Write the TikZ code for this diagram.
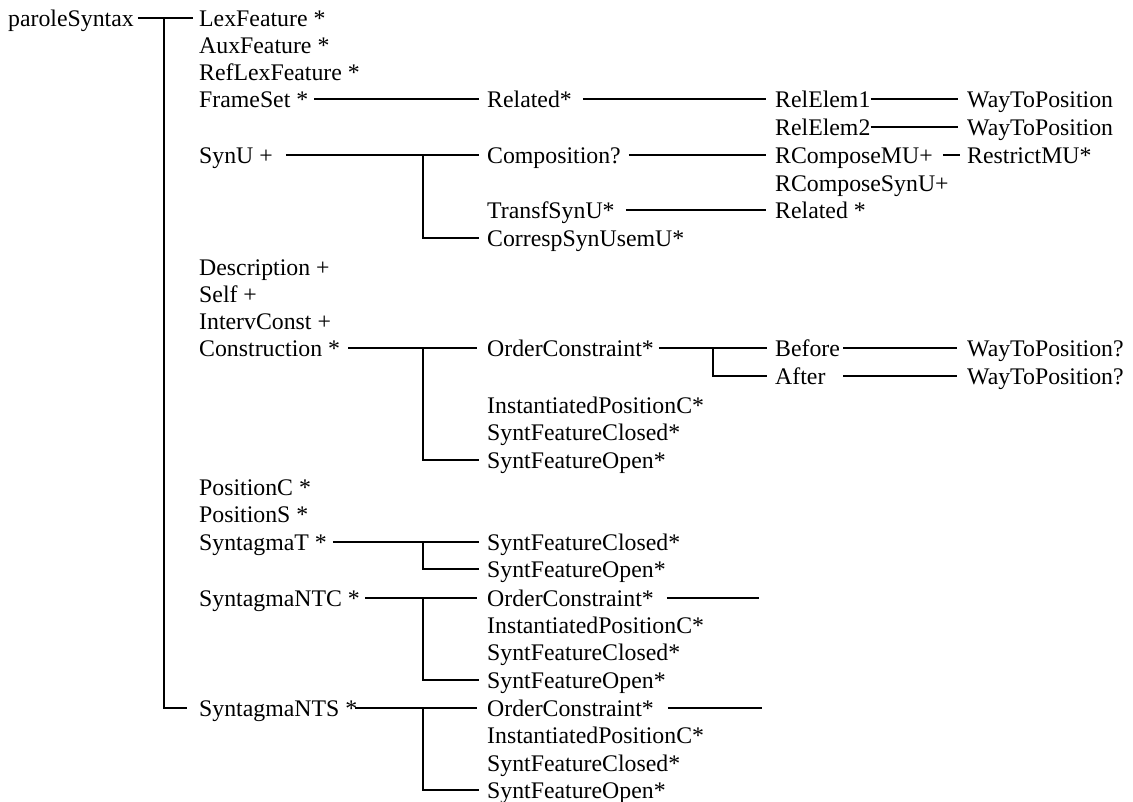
\documentclass[tikz,border=0pt]{standalone}
\usepackage{fontspec}
\setmainfont{Liberation Serif}
\begin{document}
\begin{tikzpicture}[x=1pt,y=-1pt,
  lbl/.style={anchor=west, inner xsep=0pt, inner ysep=0pt,
    text height=16pt, text depth=0pt, font=\fontsize{23.8}{28}\selectfont},
  conn/.style={line width=1.2pt}]
\useasboundingbox (0,0) rectangle (1133,801);

% root
\node[lbl] (ps) at (8,18) {paroleSyntax};

% first level
\node[lbl] (lex)      at (199,18)  {LexFeature *};
\node[lbl] (aux)      at (199,45)  {AuxFeature *};
\node[lbl] (reflex)   at (199,72)  {RefLexFeature *};
\node[lbl] (frameset) at (199,99)  {FrameSet *};
\node[lbl] (synu)     at (199,155) {SynU +};
\node[lbl] (descr)    at (199,267) {Description +};
\node[lbl] (self)     at (199,294) {Self +};
\node[lbl] (interv)   at (199,321) {IntervConst +};
\node[lbl] (constr)   at (199,348) {Construction *};
\node[lbl] (posc)     at (199,487) {PositionC *};
\node[lbl] (poss)     at (199,514) {PositionS *};
\node[lbl] (syt)      at (199,542) {SyntagmaT *};
\node[lbl] (syntc)    at (199,598) {SyntagmaNTC *};
\node[lbl] (synts)    at (199,708) {SyntagmaNTS *};

% second level
\node[lbl] (related) at (487,99)  {Related*};
\node[lbl] (compo)   at (487,155) {Composition?};
\node[lbl] (transf)  at (487,210) {TransfSynU*};
\node[lbl] (corresp) at (487,238) {CorrespSynUsemU*};
\node[lbl] (oca)  at (487,348) {OrderConstraint*};
\node[lbl] (ipca) at (487,405) {InstantiatedPositionC*};
\node[lbl] (sfca) at (487,432) {SyntFeatureClosed*};
\node[lbl] (sfoa) at (487,460) {SyntFeatureOpen*};
\node[lbl] (sfcb) at (487,542) {SyntFeatureClosed*};
\node[lbl] (sfob) at (487,569) {SyntFeatureOpen*};
\node[lbl] (occ)  at (487,598) {OrderConstraint*};
\node[lbl] (ipcc) at (487,625) {InstantiatedPositionC*};
\node[lbl] (sfcc) at (487,652) {SyntFeatureClosed*};
\node[lbl] (sfoc) at (487,680) {SyntFeatureOpen*};
\node[lbl] (ocd)  at (487,708) {OrderConstraint*};
\node[lbl] (ipcd) at (487,735) {InstantiatedPositionC*};
\node[lbl] (sfcd) at (487,763) {SyntFeatureClosed*};
\node[lbl] (sfod) at (487,790) {SyntFeatureOpen*};

% third level
\node[lbl] (relelema) at (775,99)  {RelElem1};
\node[lbl] (relelemb) at (775,127) {RelElem2};
\node[lbl] (rcmu)     at (775,155) {RComposeMU+};
\node[lbl] (rcsynu)   at (775,183) {RComposeSynU+};
\node[lbl] (relatedb) at (775,210) {Related *};
\node[lbl] (before)   at (775,348) {Before};
\node[lbl] (after)    at (775,376) {After};

% fourth level
\node[lbl] (wa)       at (967,99)  {WayToPosition};
\node[lbl] (wb)       at (967,127) {WayToPosition};
\node[lbl] (restrict) at (967,155) {RestrictMU*};
\node[lbl] (wc)       at (967,348) {WayToPosition?};
\node[lbl] (wd)       at (967,376) {WayToPosition?};

% branch columns and free line ends
\coordinate (trunk) at (164,0);
\coordinate (br)    at (423,0);
\coordinate (bro)   at (713,0);
\coordinate (occend) at (759,0);
\coordinate (ocdend) at (762,0);

% root trunk
\draw[conn] ([xshift=4pt]ps.east) -- ([xshift=-6pt]lex.west);
\draw[conn] (ps.east -| trunk) |- ([xshift=-12pt]synts.west);

% FrameSet
\draw[conn] ([xshift=6pt]frameset.east) -- ([xshift=-8pt]related.west);
\draw[conn] ([xshift=11pt]related.east) -- ([xshift=-9pt]relelema.west);
\draw[conn] (relelema.east) -- ([xshift=-9pt]wa.west);
\draw[conn] (relelemb.east) -- ([xshift=-9pt]wb.west);

% SynU
\draw[conn] ([xshift=13pt]synu.east) -- ([xshift=-8pt]compo.west);
\draw[conn] (compo.west -| br) |- ([xshift=-8pt]corresp.west);
\draw[conn] ([xshift=8pt]compo.east) -- ([xshift=-9pt]rcmu.west);
\draw[conn] ([xshift=10pt]rcmu.east) -- ([xshift=-7pt]restrict.west);
\draw[conn] ([xshift=11pt]transf.east) -- ([xshift=-9pt]relatedb.west);

% Construction
\draw[conn] ([xshift=8pt]constr.east) -- ([xshift=-10pt]oca.west);
\draw[conn] (oca.west -| br) |- ([xshift=-8pt]sfoa.west);
\draw[conn] ([xshift=5pt]oca.east) -- ([xshift=-8pt]before.west);
\draw[conn] (oca.east -| bro) |- ([xshift=-8pt]after.west);
\draw[conn] ([xshift=3pt]before.east) -- ([xshift=-10pt]wc.west);
\draw[conn] ([xshift=3pt]before.east |- after.east) -- ([xshift=-10pt]wd.west);

% SyntagmaT
\draw[conn] ([xshift=6pt]syt.east) -- ([xshift=-8pt]sfcb.west);
\draw[conn] (sfcb.west -| br) |- ([xshift=-8pt]sfob.west);

% SyntagmaNTC
\draw[conn] ([xshift=5pt]syntc.east) -- ([xshift=-10pt]occ.west);
\draw[conn] (occ.west -| br) |- ([xshift=-8pt]sfoc.west);
\draw[conn] ([xshift=13pt]occ.east) -- (occend |- occ.east);

% SyntagmaNTS
\draw[conn] ([xshift=-2pt]synts.east) -- ([xshift=-10pt]ocd.west);
\draw[conn] (ocd.west -| br) |- ([xshift=-8pt]sfod.west);
\draw[conn] ([xshift=14pt]ocd.east) -- (ocdend |- ocd.east);
\end{tikzpicture}
\end{document}
